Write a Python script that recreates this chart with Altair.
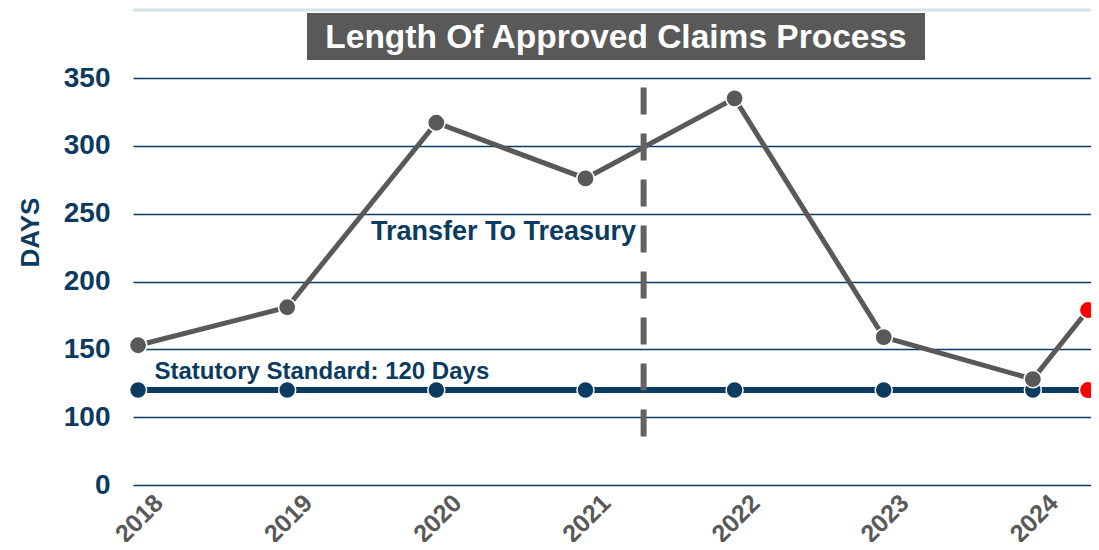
import altair as alt
import pandas as pd

# ---- data ----
years = [2018, 2019, 2020, 2021, 2022, 2023, 2024]
approved_days = [153, 181, 317, 276, 335, 159, 128]
partial_x = 2024.37
partial_days = 179
standard_days = 120
y_ticks = [50, 100, 150, 200, 250, 300, 350]
divider_x = [2021.39]
divider_top = [343]
divider_bottom = [83]
note_text = ["Transfer To Treasury", "Statutory Standard: 120 Days"]
note_x = [2020.45, 2018.11]
note_y = [236.5, 133.5]
note_align = ["center", "left"]
title_text = "Length Of Approved Claims Process"

navy = "#0b3b60"
gray = "#595959"
font = "Liberation Sans"

W, H = 958, 407

app_df = pd.DataFrame({"x": years + [partial_x], "y": approved_days + [partial_days]})
std_df = pd.DataFrame({"x": years + [partial_x], "y": [standard_days] * (len(years) + 1)})
red_df = pd.DataFrame({"x": [partial_x, partial_x], "y": [partial_days, standard_days]})
div_df = pd.DataFrame({"x": divider_x, "y": divider_top, "y2": divider_bottom})
note_df = pd.DataFrame({"x": note_x, "y": note_y, "t": note_text, "a": note_align})
one = pd.DataFrame({"a": [0]})

xscale = alt.Scale(domain=[2017.966, 2024.39], nice=False, zero=False)
yscale = alt.Scale(domain=[50, 350], nice=False, zero=False)

xenc = alt.X(
    "x:Q", scale=xscale,
    axis=alt.Axis(values=years, format="d", labelAngle=-45, labelAlign="right",
                  labelBaseline="top", labelColor=gray, labelFontSize=25,
                  labelFontWeight="bold", labelFont=font, labelPadding=5,
                  labelOffset=12, ticks=False, domain=False, grid=False, title=None),
)
yenc = alt.Y(
    "y:Q", scale=yscale,
    axis=alt.Axis(values=y_ticks, labelExpr="datum.value == 50 ? '0' : datum.label",
                  labelColor=navy, labelFontSize=28, labelFontWeight="bold",
                  labelFont=font, labelPadding=23, ticks=False, domain=False,
                  grid=True, gridColor=navy, gridWidth=1.6,
                  title="DAYS", titleColor=navy, titleFontSize=26, titleFont=font,
                  titleFontWeight="bold", titleAngle=-90, titleX=-103, titleY=154,
                  titleAlign="center", titleBaseline="middle"),
)

top_line = alt.Chart(one).mark_rule(color="#d9e1e8", strokeWidth=3).encode(
    x=alt.value(0), x2=alt.value(W), y=alt.value(-68))

std_line = alt.Chart(std_df).mark_line(color=navy, strokeWidth=6).encode(x=xenc, y=yenc)
std_pts = alt.Chart(std_df).mark_point(filled=True, color=navy, size=290, opacity=1,
                                       stroke="white", strokeWidth=1.5).encode(x=xenc, y=yenc)
app_line = alt.Chart(app_df).mark_line(color=gray, strokeWidth=5).encode(x=xenc, y=yenc)
app_pts = alt.Chart(app_df).mark_point(filled=True, color=gray, size=300, opacity=1,
                                       stroke="white", strokeWidth=1.5).encode(x=xenc, y=yenc)
divider = alt.Chart(div_df).mark_rule(color="#636363", strokeWidth=6, strokeDash=[27, 19]).encode(
    x=xenc, y=yenc, y2="y2:Q")
red_pts = alt.Chart(red_df).mark_point(filled=True, fill="#ff0000", size=300, opacity=1,
                                       stroke="white", strokeWidth=1.5).encode(x=xenc, y=yenc)

notes_c = alt.Chart(note_df[note_df.a == "center"]).mark_text(
    align="center", baseline="middle", font=font, fontSize=27, fontWeight="bold", color=navy
).encode(x=xenc, y=yenc, text="t:N")
notes_l = alt.Chart(note_df[note_df.a == "left"]).mark_text(
    align="left", baseline="middle", font=font, fontSize=24, fontWeight="bold", color=navy
).encode(x=xenc, y=yenc, text="t:N")

title_box = alt.Chart(one).mark_rect(color=gray).encode(
    x=alt.value(174), x2=alt.value(792), y=alt.value(-65), y2=alt.value(-18))
title_txt = alt.Chart(one).mark_text(
    text=title_text, align="center", baseline="middle", font=font, fontSize=33.5,
    fontWeight="bold", color="white"
).encode(x=alt.value(483), y=alt.value(-40))

chart = alt.layer(
    std_line, std_pts, app_line, app_pts, divider, red_pts, notes_c, notes_l,
    top_line, title_box, title_txt,
).properties(
    width=W, height=H,
    autosize=alt.AutoSizeParams(type="none"),
    padding={"left": 125, "top": 70, "right": 0, "bottom": 57},
).configure_view(stroke=None)

chart.save("out.html", embed_options={"renderer": "svg", "actions": False})
